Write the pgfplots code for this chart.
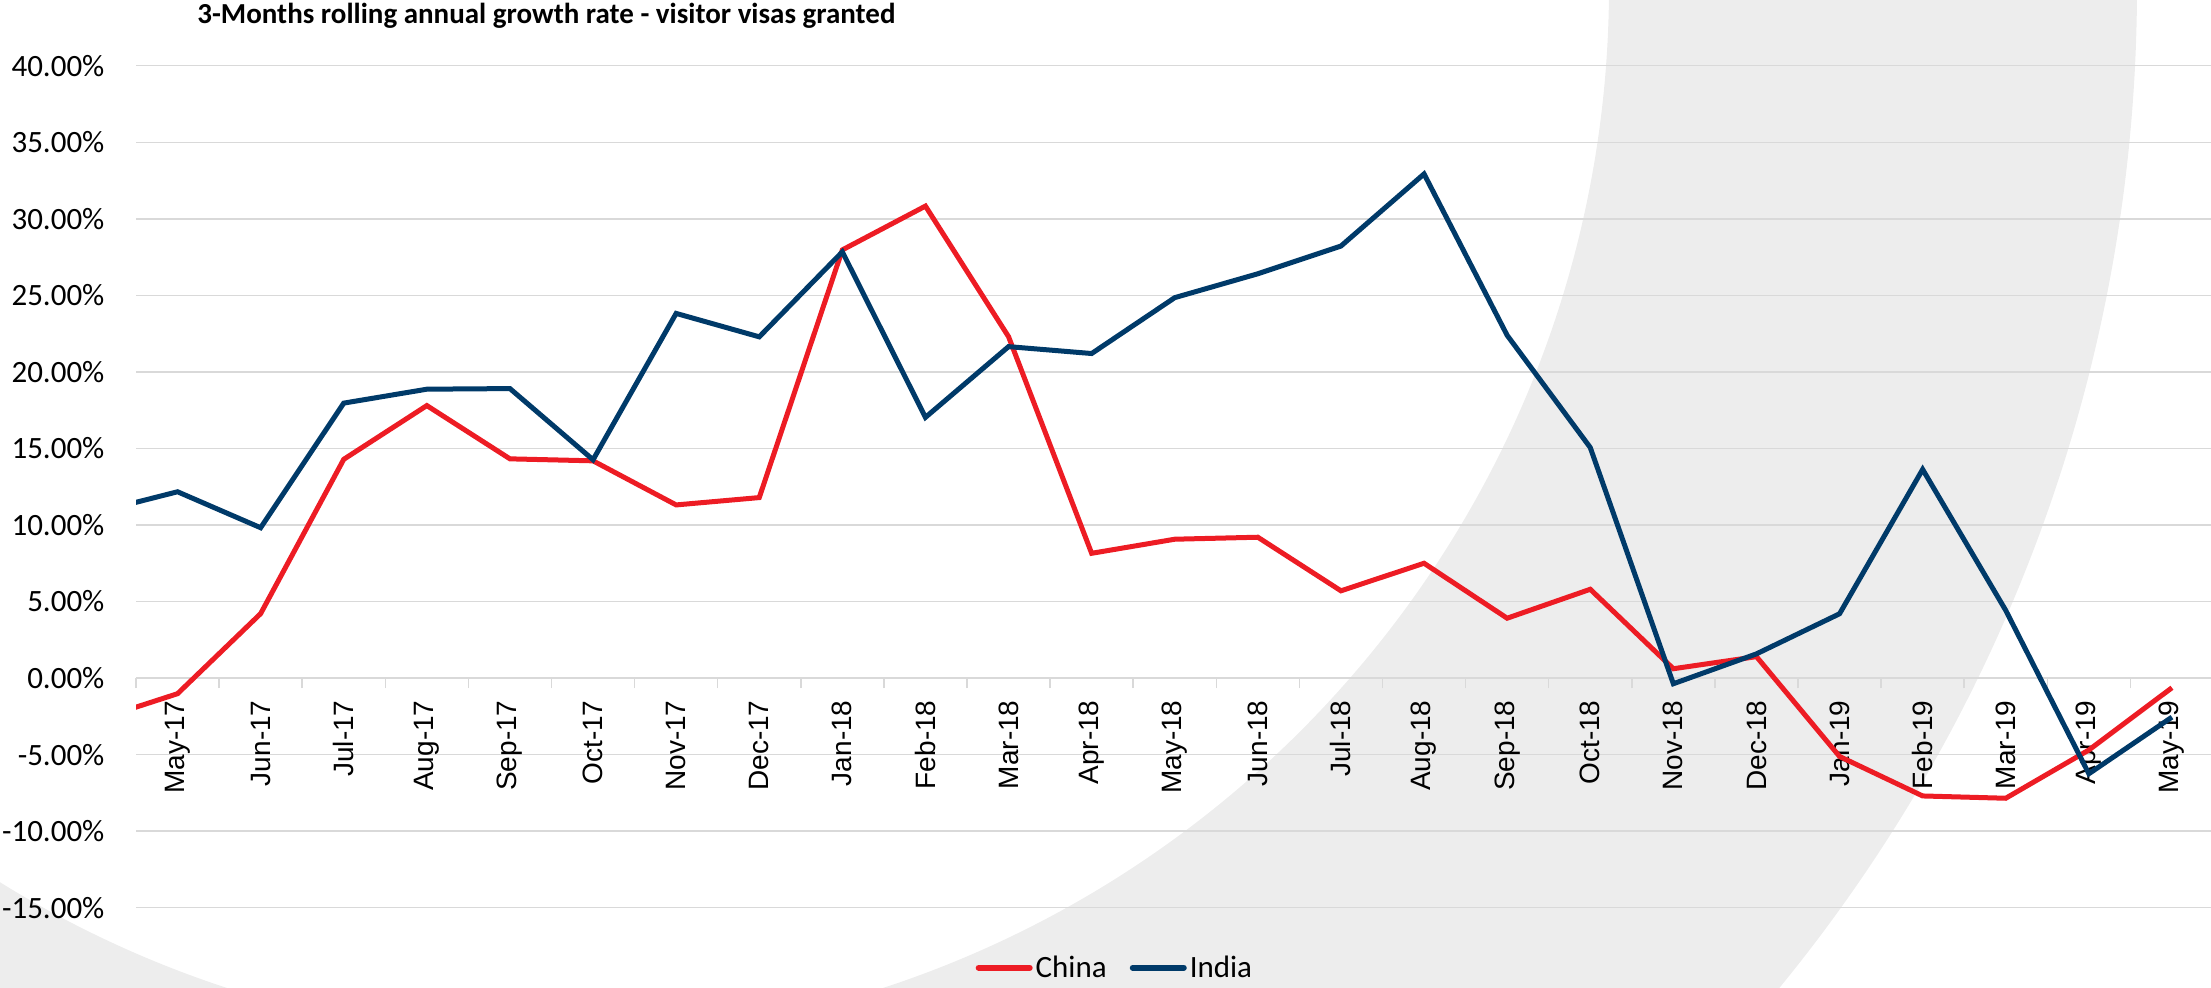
\documentclass[border=0pt]{standalone}
\usepackage{pgfplots}
\pgfplotsset{compat=1.18}
\usepackage{pgfplotstable}
\usepackage{fontspec}
\setmainfont{Carlito}
\newfontfamily\arialfont{Liberation Sans}
\definecolor{chinared}{RGB}{237,28,36}
\definecolor{indiablue}{RGB}{0,58,105}
\definecolor{gridgray}{RGB}{217,217,217}
\definecolor{ringgray}{RGB}{237,237,237}

\pgfplotstableread{
x china india
-1 -2.78 10.79
0 -1.02 12.17
1 4.21 9.82
2 14.29 17.96
3 17.80 18.87
4 14.32 18.91
5 14.19 14.26
6 11.31 23.82
7 11.79 22.29
8 27.97 27.84
9 30.83 17.03
10 22.30 21.65
11 8.15 21.20
12 9.07 24.85
13 9.20 26.41
14 5.70 28.22
15 7.50 32.93
16 3.91 22.39
17 5.80 15.06
18 0.61 -0.37
19 1.40 1.58
20 -5.12 4.20
21 -7.70 13.63
22 -7.85 4.42
23 -4.70 -6.25
24 -0.63 -2.55
}\datatable

\begin{document}
\begin{tikzpicture}
% decorative background ring
\begin{scope}
\clip (0pt,0pt) rectangle (1105.5pt,493.5pt);
\fill[ringgray, even odd rule] (277.5pt,500.5pt) circle (791pt) (277.5pt,500.5pt) circle (527pt);
\end{scope}

\begin{axis}[
  scale only axis,
  width=1037.5pt, height=421pt,
  at={(68pt,39.65pt)}, anchor=south west,
  xmin=-0.5, xmax=24.47, ymin=-15, ymax=40,
  axis x line=middle, axis y line=left,
  axis line style={draw=none, -},
  x axis line style={-},
  ytick={-15,-10,...,40},
  yticklabels={-15.00\%,-10.00\%,-5.00\%,0.00\%,5.00\%,10.00\%,15.00\%,20.00\%,25.00\%,30.00\%,35.00\%,40.00\%},
  ymajorgrids,
  grid style={draw=gridgray, line width=0.75pt},
  ytick style={draw=none},
  yticklabel style={font=\fontsize{15.5}{18}\selectfont, inner sep=0pt, anchor=east, xshift=-15.6pt, text=black},
  xtick={0,...,24},
  xticklabels={May-17,Jun-17,Jul-17,Aug-17,Sep-17,Oct-17,Nov-17,Dec-17,Jan-18,Feb-18,Mar-18,Apr-18,May-18,Jun-18,Jul-18,Aug-18,Sep-18,Oct-18,Nov-18,Dec-18,Jan-19,Feb-19,Mar-19,Apr-19,May-19},
  xticklabel style={yshift=-11pt, rotate=90, anchor=east, inner sep=0pt, font=\arialfont\fontsize{14}{16}\selectfont, text=black},
  tick align=outside,
  major tick length=0pt,
  xtick style={draw=gridgray, line width=0.75pt},
  extra x ticks={-0.5,0.5,...,24.5},
  extra x tick labels={},
  extra x tick style={major tick length=5pt, grid=none, tick align=outside},
  legend style={at={(0.472,-0.0713)}, anchor=center, draw=none, fill=none,
    legend columns=2, font=\fontsize{15.5}{18}\selectfont,
    /tikz/every even column/.append style={column sep=10pt},
    nodes={inner sep=1.5pt}},
  legend image code/.code={\draw[#1, line width=3pt, line cap=round] (1.5pt,0pt) -- (27pt,0pt);},
]
\addplot[chinared, line width=2.5pt] table[x=x, y=china] {\datatable};
\addlegendentry{China}
\addplot[indiablue, line width=2.5pt] table[x=x, y=india] {\datatable};
\addlegendentry{India}
\end{axis}

\node[anchor=base west, inner sep=0pt, font=\bfseries\fontsize{14.5}{17}\selectfont] at (98.5pt,481.5pt) {3-Months rolling annual growth rate - visitor visas granted};

\pgfresetboundingbox
\useasboundingbox (0pt,0pt) rectangle (1105.5pt,493.5pt);
\end{tikzpicture}
\end{document}
